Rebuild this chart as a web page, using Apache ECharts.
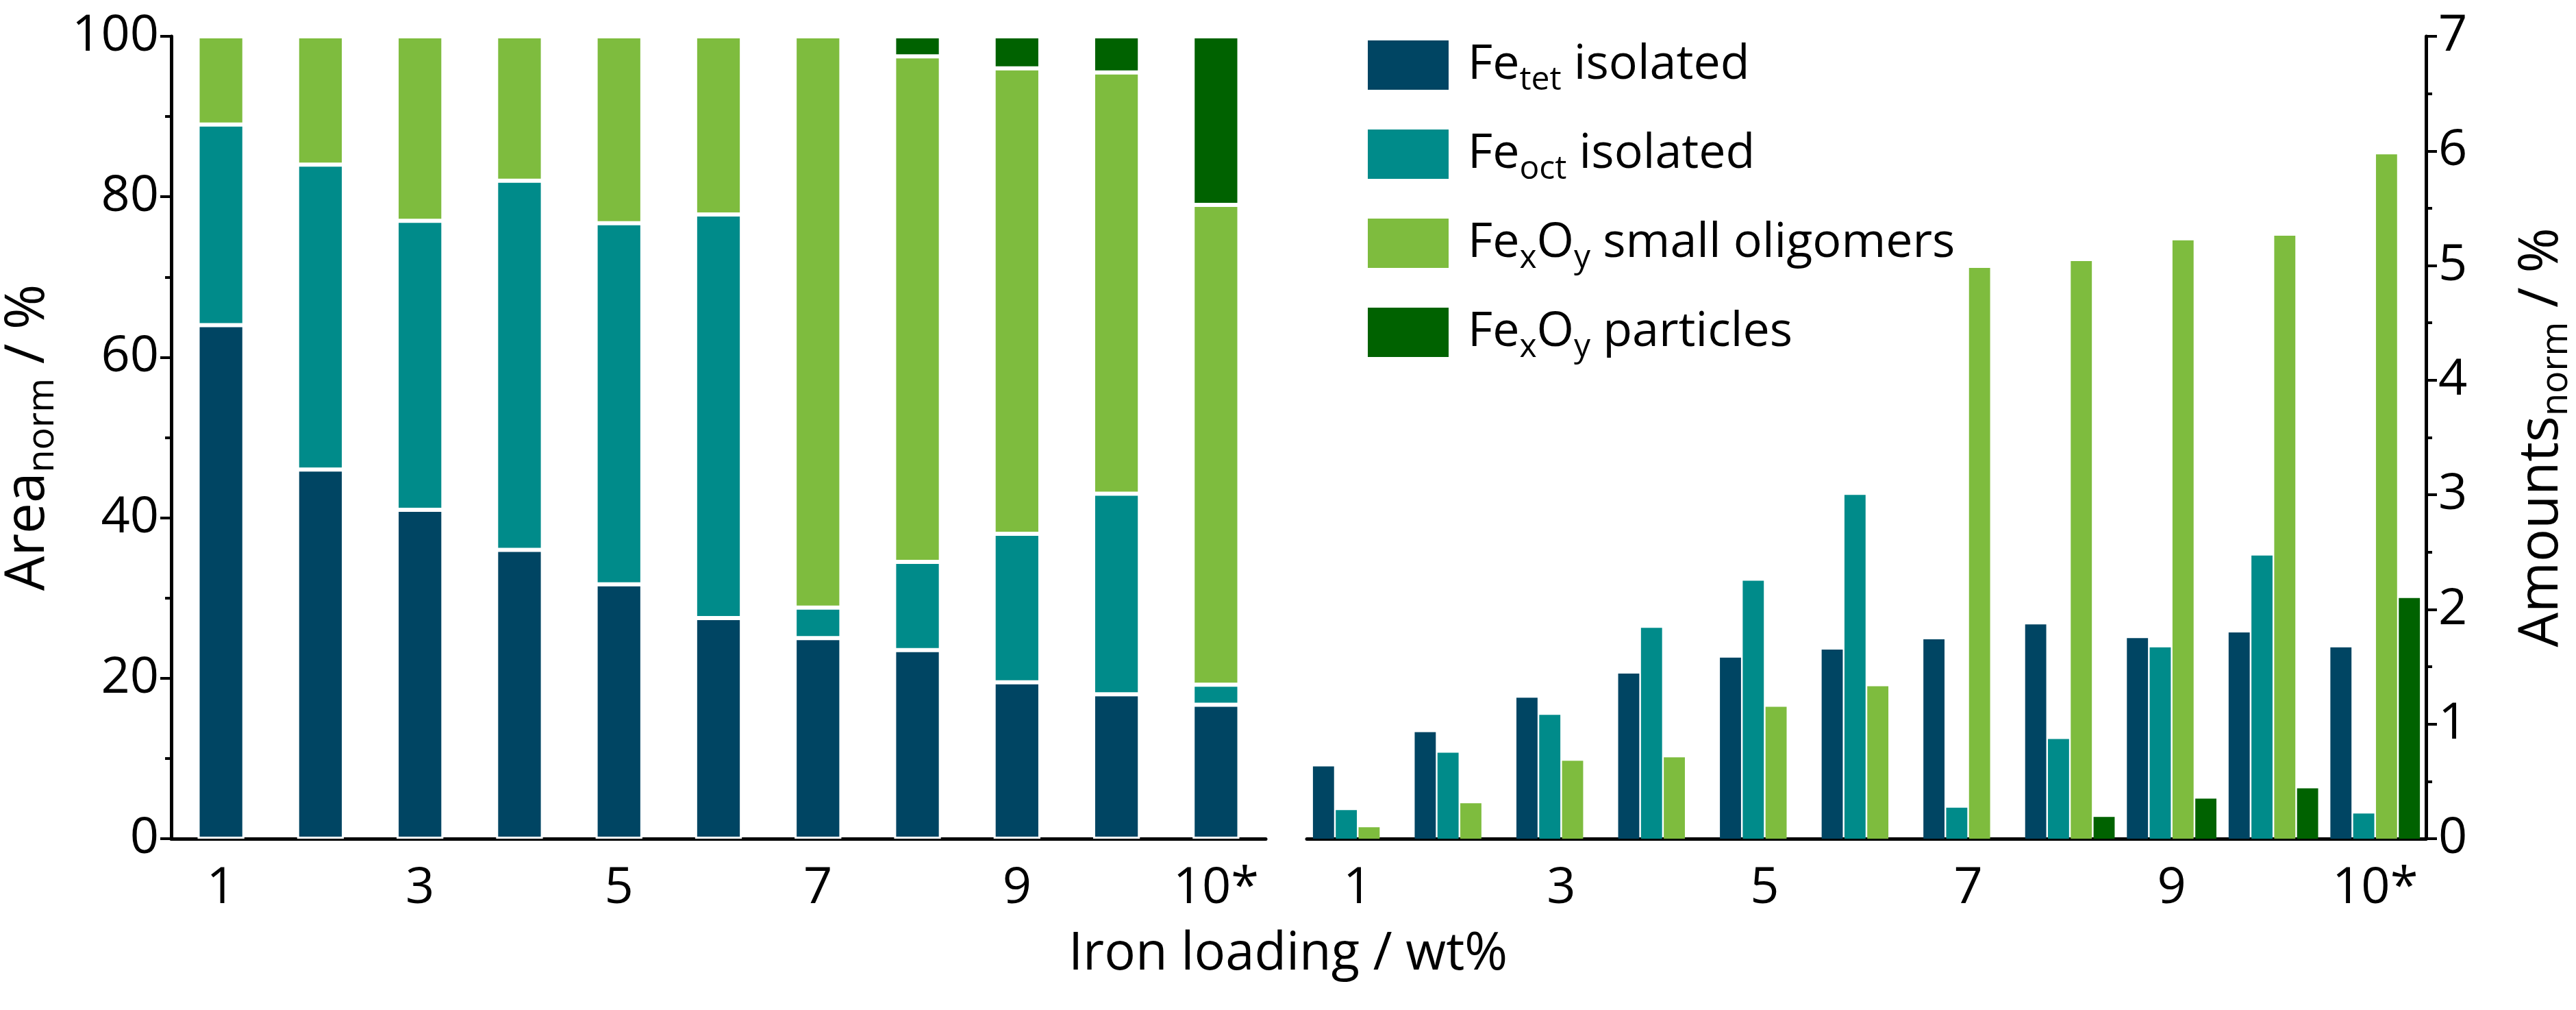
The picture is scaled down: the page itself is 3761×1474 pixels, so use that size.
<!DOCTYPE html>
<html>
<head>
<meta charset="utf-8">
<script src="https://cdn.jsdelivr.net/npm/echarts@6/dist/echarts.min.js"></script>
<style>html,body{margin:0;padding:0;background:#fff}#main{width:3761px;height:1474px}</style>
</head>
<body>
<div id="main"></div>
<script>
var categories = ['1','2','3','4','5','6','7','8','9','10','10*'];
// left panel: normalized area, %
var areaTet   = [64, 46, 41, 36, 31.7, 27.5, 25, 23.5, 19.5, 18, 16.7];
var areaOct   = [25, 38, 36, 46, 45, 50.3, 3.8, 11, 18.5, 25, 2.5];
var areaSmall = [11, 16, 23, 18, 23.3, 22.2, 71.2, 63, 58, 52.5, 59.8];
var areaPart  = [0, 0, 0, 0, 0, 0, 0, 2.5, 4, 4.5, 21];
// right panel: normalized amounts, %
var amtTet   = [0.63, 0.93, 1.23, 1.44, 1.58, 1.65, 1.74, 1.87, 1.75, 1.80, 1.67];
var amtOct   = [0.25, 0.75, 1.08, 1.84, 2.25, 3.00, 0.27, 0.87, 1.67, 2.47, 0.22];
var amtSmall = [0.10, 0.31, 0.68, 0.71, 1.15, 1.33, 4.98, 5.04, 5.22, 5.26, 5.97];
var amtPart  = [0, 0, 0, 0, 0, 0, 0, 0.19, 0.35, 0.44, 2.10];

var colors = ['#004563', '#008b8a', '#7ebc3e', '#006200'];
var names = ['tet', 'oct', 'small', 'part'];
var legendLabels = {
  tet: '{a|Fe}{s|tet}{a| isolated}',
  oct: '{a|Fe}{s|oct}{a| isolated}',
  small: '{a|Fe}{s|x}{a|O}{s|y}{a| small oligomers}',
  part: '{a|Fe}{s|x}{a|O}{s|y}{a| particles}'
};
var font = 'Open Sans';
var rich = {
  a: {fontFamily: font, fontSize: 70, color: '#000'},
  s: {fontFamily: font, fontSize: 48, color: '#000', padding: [44, 0, 0, 0]}
};
var richV = {
  a: {fontFamily: font, fontSize: 80, color: '#000'},
  s: {fontFamily: font, fontSize: 54, color: '#000', padding: [44, 0, 0, 0]}
};

var chart = echarts.init(document.getElementById('main'));
var axisLine = {show: true, lineStyle: {color: '#000', width: 5}};
var tickLabel = {fontFamily: font, fontSize: 74, color: '#000'};

var series = [];
[areaTet, areaOct, areaSmall, areaPart].forEach(function (d, i) {
  series.push({
    name: names[i], type: 'bar', stack: 'area', xAxisIndex: 0, yAxisIndex: 0,
    data: d, barWidth: '47%',
    itemStyle: {color: colors[i], borderColor: '#fff', borderWidth: 3},
    emphasis: {disabled: true}
  });
});
[amtTet, amtOct, amtSmall, amtPart].forEach(function (d, i) {
  series.push({
    name: names[i], type: 'bar', xAxisIndex: 1, yAxisIndex: 1,
    data: d, barGap: '8%', barCategoryGap: '12%',
    itemStyle: {color: colors[i]},
    emphasis: {disabled: true}
  });
});

chart.setOption({
  animation: false,
  title: {
    text: 'Iron loading / wt%', left: 'center', top: 1350,
    textStyle: {fontFamily: font, fontSize: 76, fontWeight: 'normal', color: '#000'}
  },
  legend: {
    data: names, left: 1990, top: 52, orient: 'vertical',
    itemWidth: 120, itemHeight: 74, itemGap: 46,
    icon: 'rect',
    formatter: function (n) { return legendLabels[n]; },
    textStyle: {rich: rich, padding: [0, 0, 0, 22]}
  },
  grid: [
    {left: 247, right: 1913, top: 53, bottom: 250},
    {left: 1908, right: 214, top: 53, bottom: 250}
  ],
  xAxis: [
    {type: 'category', gridIndex: 0, data: categories, axisLine: axisLine,
     axisTick: {alignWithLabel: true, length: 16, lineStyle: {width: 4, color: '#000'}},
     axisLabel: Object.assign({margin: 36}, tickLabel)},
    {type: 'category', gridIndex: 1, data: categories, axisLine: axisLine,
     axisTick: {alignWithLabel: true, length: 16, lineStyle: {width: 4, color: '#000'}},
     axisLabel: Object.assign({margin: 36}, tickLabel)}
  ],
  yAxis: [
    {type: 'value', gridIndex: 0, min: 0, max: 100, interval: 20,
     axisLine: axisLine, splitLine: {show: false},
     axisTick: {show: true, length: 16, lineStyle: {width: 4, color: '#000'}},
     minorTick: {show: true, splitNumber: 2, length: 9, lineStyle: {width: 4, color: '#000'}},
     axisLabel: Object.assign({margin: 18}, tickLabel),
     name: '{a|Area}{s|norm}{a| / %}', nameLocation: 'middle', nameGap: 160,
     nameTextStyle: {rich: richV}},
    {type: 'value', gridIndex: 1, min: 0, max: 7, interval: 1, position: 'right',
     axisLine: axisLine, splitLine: {show: false},
     axisTick: {show: true, length: 16, lineStyle: {width: 4, color: '#000'}},
     minorTick: {show: true, splitNumber: 2, length: 9, lineStyle: {width: 4, color: '#000'}},
     axisLabel: Object.assign({margin: 18}, tickLabel),
     name: '{a|Amounts}{s|norm}{a| / %}', nameLocation: 'middle', nameGap: 120,
     nameTextStyle: {rich: richV}}
  ],
  series: series
});
</script>
</body>
</html>
